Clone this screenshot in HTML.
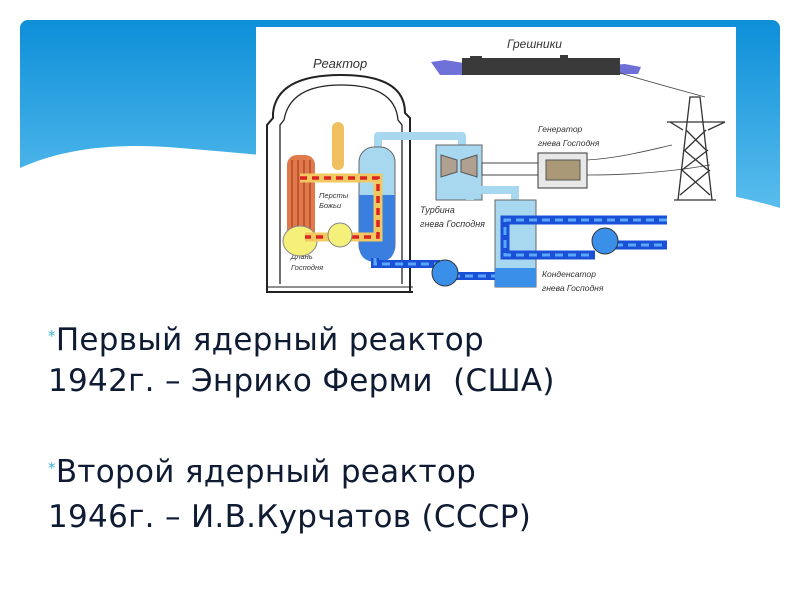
<!DOCTYPE html>
<html><head><meta charset="utf-8"><style>
body{margin:0;width:800px;height:600px;background:#fff;overflow:hidden;position:relative;font-family:"DejaVu Sans","Liberation Sans",sans-serif}
.t{position:absolute;left:48px;font-size:31px;letter-spacing:0.3px;color:#0f1b33;white-space:pre;line-height:34px}
.b{color:#3ab0d8;font-size:15px;vertical-align:9px}
</style></head><body>
<svg width="800" height="600" style="position:absolute;left:0;top:0">
<defs>
<linearGradient id="sky" x1="0" y1="0" x2="0" y2="1"><stop offset="0" stop-color="#0d8fd8"/><stop offset="1" stop-color="#5ec0ee"/></linearGradient>
</defs>
<rect x="20" y="20" width="760" height="200" rx="8" fill="url(#sky)"/>
<path d="M20,168 C60,150 110,142 180,148 C300,158 420,170 520,175 C650,180 720,190 780,208 L780,240 L20,240Z" fill="#fff"/>
<rect x="256" y="27" width="480" height="268" fill="#fff"/>
<g font-family="Liberation Sans,sans-serif" font-style="italic" fill="#333">
<text x="313" y="68" font-size="13">Реактор</text>
<text x="507" y="48" font-size="12">Грешники</text>
<text x="538" y="132" font-size="8.5">Генератор</text>
<text x="538" y="146" font-size="8.5">гнева Господня</text>
<text x="420" y="213" font-size="9">Турбина</text>
<text x="420" y="227" font-size="9">гнева Господня</text>
<text x="542" y="277" font-size="8.5">Конденсатор</text>
<text x="542" y="291" font-size="8.5">гнева Господня</text>
<text x="319" y="198" font-size="7.5">Персты</text>
<text x="319" y="208" font-size="7.5">Божьи</text>
<text x="291" y="259" font-size="7.5">Длань</text>
<text x="291" y="270" font-size="7.5">Господня</text>
</g>
<path d="M431,62 L445,60 L470,64 L600,66 L625,64 L641,67 L638,74 L440,75Z" fill="#6f6fd8"/>
<rect x="462" y="58" width="158" height="17" fill="#3a3a3a"/>
<rect x="470" y="56" width="12" height="4" fill="#3a3a3a"/><rect x="560" y="55" width="8" height="5" fill="#3a3a3a"/>
<g stroke="#444" fill="none" stroke-width="0.8">
<path d="M620,73 C650,82 680,90 705,97"/>
<path d="M587,160 C620,158 650,150 672,145"/>
<path d="M587,175 C630,175 670,172 710,165"/>
</g>
<g stroke="#333" fill="none" stroke-width="1.3">
<path d="M678,200 L690,97 L700,97 L712,200 M674,200 L716,200"/>
<path d="M667,122 L725,122 M670,122 L683,130 M725,122 L708,130"/>
<path d="M686,130 L706,150 M706,130 L685,150 M684,150 L708,170 M708,150 L682,170 M682,170 L710,195 M710,170 L680,195"/>
</g>
<path d="M267,292 L267,125 L273,118 L273,113 Q277,75 341,75 Q405,75 405,113 L410,118 L410,292" fill="none" stroke="#222" stroke-width="2"/>
<path d="M280,284 L280,125 L284,120 Q290,85 341,85 Q395,85 398,120 L402,125 L402,284" fill="none" stroke="#222" stroke-width="1.3"/>
<line x1="266" y1="292" x2="413" y2="292" stroke="#222" stroke-width="2"/>
<line x1="266" y1="287" x2="413" y2="287" stroke="#222" stroke-width="1"/>
<path d="M378,147 L378,136 L462,136 L462,148" stroke="#a8d8ef" stroke-width="8" fill="none" stroke-linejoin="round"/>
<rect x="287" y="155" width="28" height="90" rx="10" fill="#e07a4a"/>
<path d="M292,160 L292,235 M298,160 L298,235 M304,160 L304,235 M310,160 L310,235" stroke="#a03020" stroke-width="1"/>
<ellipse cx="300" cy="241" rx="17" ry="15" fill="#f4f07a" stroke="#888"/>
<rect x="332" y="122" width="12" height="48" rx="6" fill="#f0c060"/>
<rect x="359" y="147" width="36" height="113" rx="15" fill="#a8d8ef" stroke="#666"/>
<path d="M359,195 L395,195 L395,245 Q395,262 377,262 Q359,262 359,245Z" fill="#3a7fe0"/>
<path d="M300,178 L378,178 L378,237 L305,237" stroke="#f2c860" stroke-width="9" fill="none"/>
<path d="M300,178 L378,178 L378,237 L305,237" stroke="#dd2222" stroke-width="3.5" stroke-dasharray="7,5" fill="none"/>
<circle cx="340" cy="235" r="12" fill="#f4f07a" stroke="#888"/>
<rect x="436" y="145" width="46" height="55" fill="#a8d8ef" stroke="#666"/>
<path d="M441,155 L457,160 L457,172 L441,177Z M477,155 L461,160 L461,172 L477,177Z" fill="#b0a090" stroke="#555"/>
<rect x="482" y="163" width="56" height="12" fill="#fff" stroke="#444"/>
<rect x="538" y="153" width="49" height="35" fill="#e8e8e8" stroke="#333"/>
<rect x="546" y="160" width="34" height="20" fill="#aa9977" stroke="#555"/>
<path d="M470,200 L470,190 L515,190 L515,202" stroke="#a8d8ef" stroke-width="8" fill="none"/>
<rect x="495" y="200" width="41" height="87" fill="#a8d8ef" stroke="#666"/>
<rect x="495" y="268" width="41" height="19" fill="#3a8fe8"/>
<path d="M667,220 L505,220 L505,255 L595,255 M610,245 L667,245" stroke="#1a50d8" stroke-width="9" fill="none"/>
<path d="M667,220 L505,220 L505,255 L590,255 M615,245 L667,245" stroke="#5aa8ff" stroke-width="3" stroke-dasharray="8,5" fill="none"/>
<circle cx="605" cy="241" r="13" fill="#3a8fe8" stroke="#333"/>
<path d="M375,258 L375,264 L440,264 M450,276 L495,276" stroke="#1a50d8" stroke-width="8" fill="none"/>
<path d="M375,258 L375,264 L440,264 M452,276 L495,276" stroke="#5aa8ff" stroke-width="3" stroke-dasharray="8,5" fill="none"/>
<circle cx="445" cy="273" r="13" fill="#3a8fe8" stroke="#333"/>
</svg>
<div class="t" style="top:319px"><span class="b">*</span>Первый ядерный реактор</div>
<div class="t" style="top:364px">1942г. – Энрико Ферми  (США)</div>
<div class="t" style="top:451px"><span class="b">*</span>Второй ядерный реактор</div>
<div class="t" style="top:500px">1946г. – И.В.Курчатов (СССР)</div>
</body></html>
